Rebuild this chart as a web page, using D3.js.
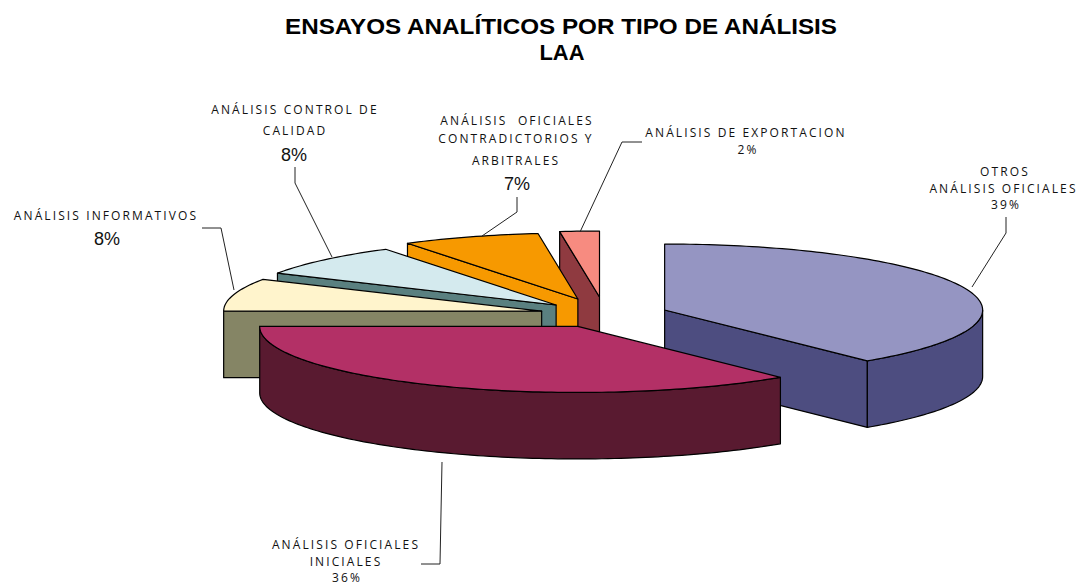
<!DOCTYPE html>
<html>
<head>
<meta charset="utf-8">
<title>Ensayos analíticos por tipo de análisis</title>
<script src="https://cdn.jsdelivr.net/npm/d3@7"></script>
<style>
  html, body { margin: 0; padding: 0; background: #fff; }
  svg { display: block; }
  .title { font: bold 21.5px "Liberation Sans", Arial, sans-serif; fill: #000; text-anchor: middle; }
  .lab { font: 12px "Open Sans", sans-serif; letter-spacing: 2.1px; fill: #111; text-anchor: middle; }
  .pct { font: 18px "Liberation Sans", Arial, sans-serif; fill: #111; text-anchor: middle; }
</style>
</head>
<body>
<div id="chart"></div>
<script>
const WIDTH = 1078;
const HEIGHT = 585;

// Slices in drawing order of the pie, clockwise from 12 o'clock
const categories = ['OTROS ANÁLISIS OFICIALES', 'ANÁLISIS OFICIALES INICIALES', 'ANÁLISIS INFORMATIVOS',
  'ANÁLISIS CONTROL DE CALIDAD', 'ANÁLISIS OFICIALES CONTRADICTORIOS Y ARBITRALES', 'ANÁLISIS DE EXPORTACION'];
const values = [39, 36, 8, 8, 7, 2];
const explosion = [0.2, 0.2, 0.205, 0.21, 0.25, 0.265];
const topColors = ['#9595c2', '#b33066', '#fff4cc', '#d4eaee', '#f79900', '#f78b80'];
const sideColors = ['#4d4d80', '#591a30', '#858565', '#5a8080', '#f79900', '#8f3a40'];

const PIE = { cx: 604.8, cy: 314.5, rx: 318, ry: 66, depth: 66.5 };

// Back slices first so the front ones cover them
const paintOrder = [5, 4, 3, 2, 0, 1];

// Label blocks: lines are [text, class, x, baseline]; leader is the polyline to the slice
const labelBlocks = [
  { lines: [['OTROS', 'lab', 1005, 176], ['ANÁLISIS OFICIALES', 'lab', 1003.5, 193], ['39%', 'lab', 1006, 209]],
    leader: [[1006, 217], [1006, 233], [972, 287]] },
  { lines: [['ANÁLISIS OFICIALES', 'lab', 346, 549], ['INICIALES', 'lab', 346, 566], ['36%', 'lab', 347, 581.5]],
    leader: [[442, 462], [440, 564], [421, 564]] },
  { lines: [['ANÁLISIS INFORMATIVOS', 'lab', 106, 220], ['8%', 'pct', 107, 245]],
    leader: [[202, 228], [221, 228], [234, 290]] },
  { lines: [['ANÁLISIS CONTROL DE', 'lab', 295, 114], ['CALIDAD', 'lab', 295, 135], ['8%', 'pct', 294, 161]],
    leader: [[295, 167], [295, 183], [332, 257]] },
  { lines: [['ANÁLISIS  OFICIALES', 'lab', 517, 125], ['CONTRADICTORIOS Y', 'lab', 516, 143], ['ARBITRALES', 'lab', 516, 165], ['7%', 'pct', 517, 190]],
    leader: [[517, 197], [517, 212], [482, 236]] },
  { lines: [['ANÁLISIS DE EXPORTACION', 'lab', 746, 137], ['2%', 'lab', 748, 154]],
    leader: [[642, 142], [622, 142], [580, 232]] }
];

const svg = d3.select('#chart').append('svg')
  .attr('width', WIDTH)
  .attr('height', HEIGHT);

// the title is stretched sideways in the original
svg.append('text').attr('class', 'title').attr('x', 561).attr('y', 33.5)
  .attr('textLength', 552).attr('lengthAdjust', 'spacingAndGlyphs')
  .text('ENSAYOS ANALÍTICOS POR TIPO DE ANÁLISIS');
svg.append('text').attr('class', 'title').attr('x', 562).attr('y', 60)
  .attr('textLength', 45).attr('lengthAdjust', 'spacingAndGlyphs')
  .text('LAA');

const slices = d3.pie().sort(null).startAngle(0).endAngle(2 * Math.PI)(values);

const line = d3.line();

function draw(g, d, fill) {
  g.append('path')
    .attr('d', d)
    .attr('fill', fill)
    .attr('stroke', '#000')
    .attr('stroke-width', 1.2)
    .attr('stroke-linejoin', 'round');
}

function arcAngles(a, b) {
  const n = Math.max(2, Math.ceil((b - a) / 0.02));
  return d3.range(n + 1).map(i => a + (b - a) * i / n);
}

paintOrder.forEach(i => {
  const s = slices[i];
  const mid = (s.startAngle + s.endAngle) / 2;
  const e = explosion[i];
  // unit circle -> screen, exploded along the bisector
  const x = d3.scaleLinear().domain([-1, 1])
    .range([PIE.cx - PIE.rx, PIE.cx + PIE.rx].map(v => v + e * PIE.rx * Math.sin(mid)));
  const y = d3.scaleLinear().domain([1, -1])
    .range([PIE.cy - PIE.ry, PIE.cy + PIE.ry].map(v => v - e * PIE.ry * Math.cos(mid)));
  const rim = (t, dz) => [x(Math.sin(t)), y(Math.cos(t)) + dz];
  const center = (dz) => [x(0), y(0) + dz];
  const g = svg.append('g').attr('class', 'slice');

  // cut faces, only the ones turned towards the viewer
  if (Math.sin(s.startAngle) < -1e-6) {
    draw(g, line([center(0), rim(s.startAngle, 0), rim(s.startAngle, PIE.depth), center(PIE.depth)]) + 'Z', sideColors[i]);
  }
  if (Math.sin(s.endAngle) > 1e-6) {
    draw(g, line([center(0), rim(s.endAngle, 0), rim(s.endAngle, PIE.depth), center(PIE.depth)]) + 'Z', sideColors[i]);
  }

  // outer wall on the front half of the ellipse
  const a = Math.max(s.startAngle, Math.PI / 2);
  const b = Math.min(s.endAngle, 3 * Math.PI / 2);
  if (b > a) {
    const ts = arcAngles(a, b);
    const wall = ts.map(t => rim(t, 0)).concat(ts.slice().reverse().map(t => rim(t, PIE.depth)));
    draw(g, line(wall) + 'Z', sideColors[i]);
  }

  // top face
  const top = [center(0)].concat(arcAngles(s.startAngle, s.endAngle).map(t => rim(t, 0)));
  draw(g, line(top) + 'Z', topColors[i]);
});

labelBlocks.forEach(block => {
  const g = svg.append('g').attr('class', 'label');
  g.append('path')
    .attr('d', line(block.leader))
    .attr('fill', 'none')
    .attr('stroke', '#222')
    .attr('stroke-width', 1);
  block.lines.forEach(([txt, cls, lx, ly]) => {
    g.append('text').attr('class', cls).attr('x', lx).attr('y', ly)
      .attr('xml:space', 'preserve').style('white-space', 'pre').text(txt);
  });
});
</script>
</body>
</html>
